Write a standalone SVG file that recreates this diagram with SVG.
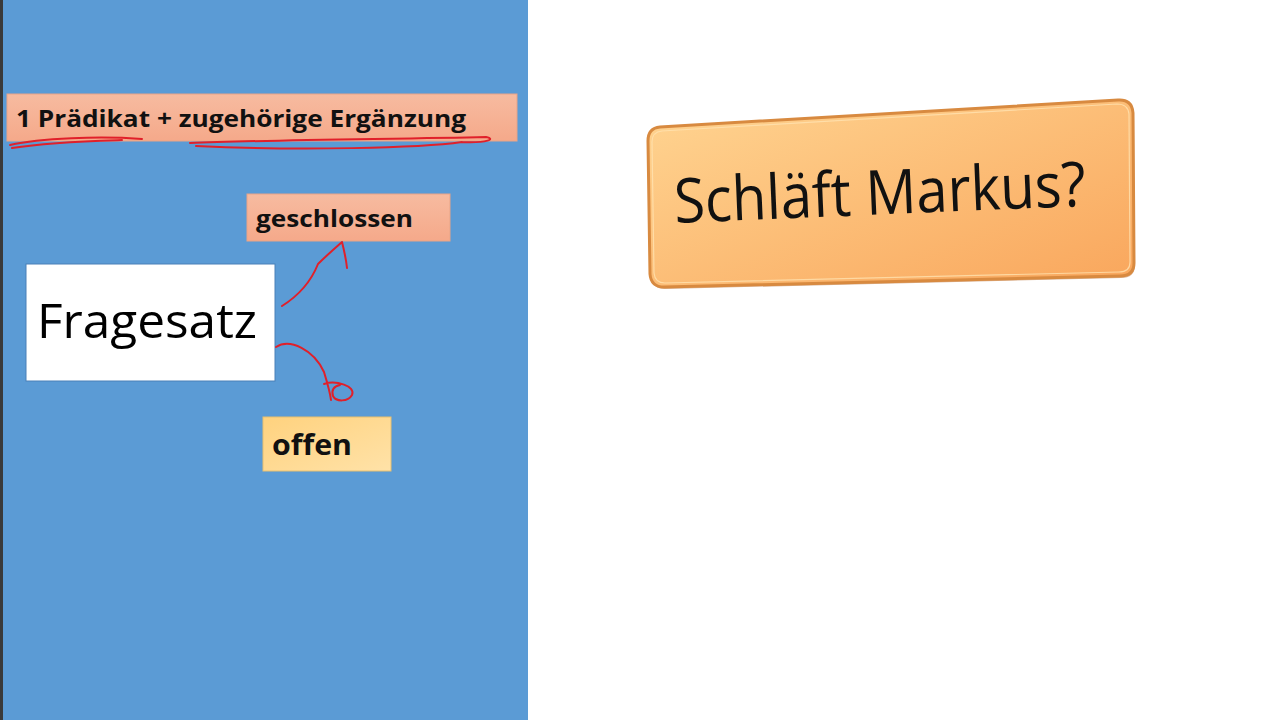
<svg xmlns="http://www.w3.org/2000/svg" width="1280" height="720" viewBox="0 0 1280 720">
<defs>
<linearGradient id="peach" x1="0" y1="0" x2="0" y2="1">
<stop offset="0" stop-color="#F7BBA0"/><stop offset="1" stop-color="#F5A98A"/>
</linearGradient>
<linearGradient id="yellow" x1="0" y1="0" x2="1" y2="1">
<stop offset="0" stop-color="#FFD27E"/><stop offset="1" stop-color="#FFE2A8"/>
</linearGradient>
<linearGradient id="btn" x1="0" y1="0" x2="1" y2="1">
<stop offset="0" stop-color="#FFD592"/><stop offset="1" stop-color="#F9A65C"/>
</linearGradient>
<style>
.lbl{font-family:"Open Sans","Liberation Sans",sans-serif;font-weight:bold;fill:#111}
.ink{fill:none;stroke:#E0202A;stroke-width:2;stroke-linecap:round;stroke-linejoin:round}
</style>
</defs>
<rect x="0" y="0" width="1280" height="720" fill="#ffffff"/>
<rect x="0" y="0" width="528" height="720" fill="#5B9BD5"/>
<rect x="0" y="0" width="3" height="720" fill="#3a3a3a"/>

<g id="node-praedikat">
<rect x="7" y="94" width="510" height="47" fill="url(#peach)" stroke="#E9A487" stroke-width="1"/>
<text class="lbl" x="16" y="127" font-size="24" textLength="450" lengthAdjust="spacingAndGlyphs">1 Prädikat + zugehörige Ergänzung</text>
</g>

<g id="node-geschlossen">
<rect x="247" y="194" width="203" height="47" fill="url(#peach)" stroke="#E9A487" stroke-width="1"/>
<text class="lbl" x="256" y="227" font-size="24" textLength="157" lengthAdjust="spacingAndGlyphs">geschlossen</text>
</g>

<g id="node-fragesatz">
<rect x="26" y="264" width="249" height="117" fill="#ffffff" stroke="#4A80B8" stroke-width="1"/>
<text x="37" y="338" font-family="Open Sans, Liberation Sans, sans-serif" font-size="48" fill="#000" textLength="220" lengthAdjust="spacingAndGlyphs">Fragesatz</text>
</g>

<g id="node-offen">
<rect x="263" y="417" width="128" height="54" fill="url(#yellow)" stroke="#E8C070" stroke-width="1"/>
<text class="lbl" x="272" y="455" font-size="28" textLength="80" lengthAdjust="spacingAndGlyphs">offen</text>
</g>

<g id="node-schlaeft">
<path d="M660,127 L1118,100 Q1132,99 1133,113 L1134,263 Q1134,276 1120,276 L664,287 Q651,287 650,274 L648,141 Q648,128 660,127 Z" fill="#B86A2A" opacity="0.5" transform="translate(1,2)"/>
<path d="M660,127 L1118,100 Q1132,99 1133,113 L1134,263 Q1134,276 1120,276 L664,287 Q651,287 650,274 L648,141 Q648,128 660,127 Z" fill="url(#btn)" stroke="#D88A40" stroke-width="3"/>
<path d="M662,131 L1117,104 Q1128,104 1129,114 L1130,262 Q1130,272 1119,272 L665,283 Q655,283 654,273 L652,142 Q652,132 662,131 Z" fill="none" stroke="#FFE2B0" stroke-width="1.2" opacity="0.8"/>
<text x="675" y="223" font-family="Open Sans, Liberation Sans, sans-serif" font-size="62" fill="#111" transform="rotate(-2.4 675 223)" textLength="412" lengthAdjust="spacingAndGlyphs">Schläft Markus?</text>
</g>

<g id="connectors">
<path class="ink" d="M10,145 C40,138 100,136 142,139 M12,148 C50,142 90,141 122,140"/>
<path class="ink" d="M190,143 C260,140 400,139 486,137 C496,139 488,143 462,142 M196,146 C300,151 420,148 462,142"/>
<path class="ink" d="M282,306 C298,296 310,284 318,264 C326,256 334,249 342,242 C344,250 346,258 347,268"/>
<path class="ink" d="M276,347 C290,338 314,350 324,372 C328,385 330,392 331,400 M324,384 C336,380 356,386 352,395 C348,402 336,402 333,396 C331,390 334,386 340,385"/>
</g>
</svg>
